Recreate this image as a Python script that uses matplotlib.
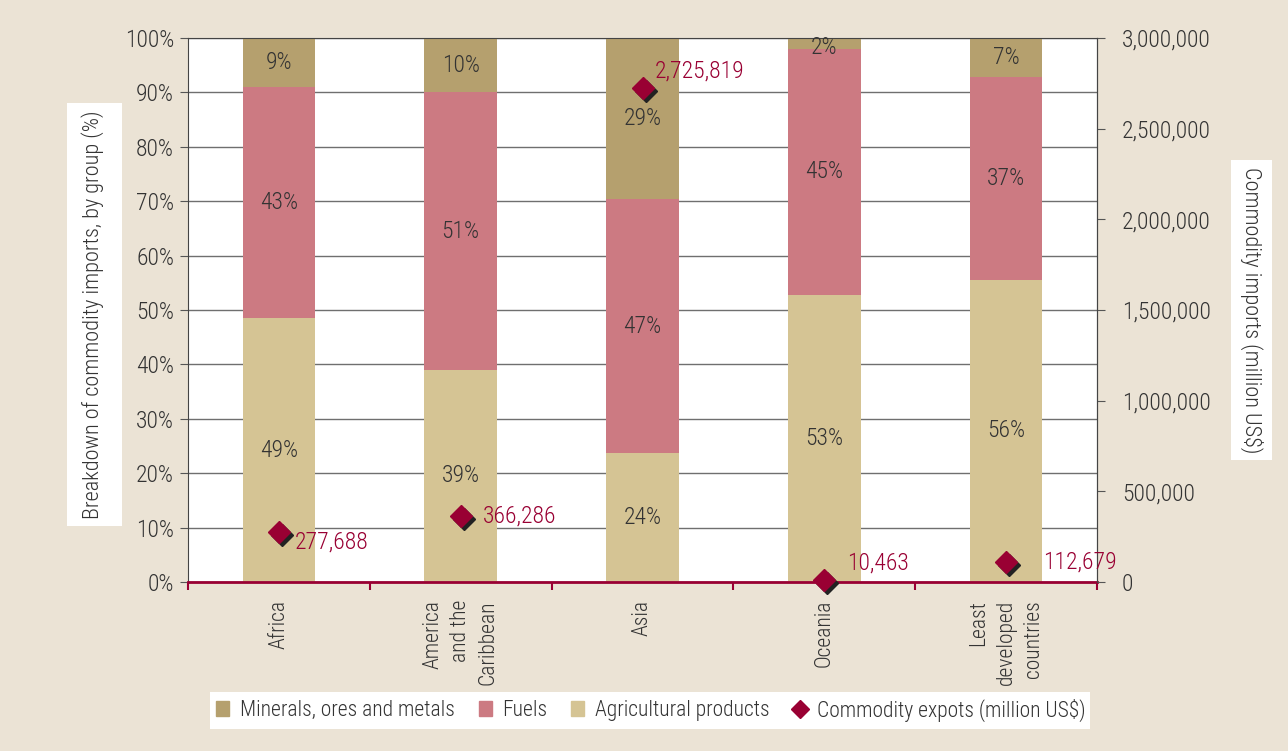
import matplotlib.pyplot as plt
import numpy as np
from matplotlib.patches import Rectangle, Patch
from matplotlib.lines import Line2D
from matplotlib.ticker import FuncFormatter, MultipleLocator
import matplotlib.transforms as mtransforms

plt.rcParams['font.family'] = ['Roboto Condensed', 'Archivo Narrow', 'PT Sans Narrow',
                               'Liberation Sans Narrow', 'DejaVu Sans']
plt.rcParams['font.weight'] = 'light'

groups = ["Africa", "America\nand the\nCaribbean", "Asia", "Oceania",
          "Least\ndeveloped\ncountries"]
agricultural = [48.5, 39.0, 23.7, 52.8, 55.6]
fuels = [42.5, 51.0, 46.7, 45.2, 37.2]
minerals = [9.0, 10.0, 29.6, 2.0, 7.2]
agri_labels = [49, 39, 24, 53, 56]
fuel_labels = [43, 51, 47, 45, 37]
mineral_labels = [9, 10, 29, 2, 7]
exports = [277688, 366286, 2725819, 10463, 112679]

BG = "#ebe3d5"
C_MIN = "#b5a06e"
C_FUEL = "#cc7a82"
C_AGRI = "#d5c494"
C_EXP = "#990033"
TXT = "#333333"
FS_NUM = 17   # numbers
FS_TXT = 16   # axis titles
FS_LAB = 15.5 # category labels / legend


def main():
    fig = plt.figure(figsize=(12.88, 7.51), dpi=100, facecolor=BG)
    W, H = 1288, 751
    ax = fig.add_axes([188 / W, 1 - 582 / H, (1097 - 188) / W, (582 - 38) / H])
    ax.set_facecolor("white")
    x = np.arange(len(groups))
    bw = 0.4

    ax.bar(x, agricultural, bw, color=C_AGRI, zorder=2)
    bottom2 = np.array(agricultural)
    ax.bar(x, fuels, bw, bottom=bottom2, color=C_FUEL, zorder=2)
    bottom3 = bottom2 + np.array(fuels)
    ax.bar(x, minerals, bw, bottom=bottom3, color=C_MIN, zorder=2)

    for i in range(len(groups)):
        ax.text(x[i], agricultural[i] / 2, f"{agri_labels[i]}%", ha="center",
                va="center", fontsize=FS_NUM, color=TXT, zorder=3)
        ax.text(x[i], bottom2[i] + fuels[i] / 2, f"{fuel_labels[i]}%", ha="center",
                va="center", fontsize=FS_NUM, color=TXT, zorder=3)
        ym = bottom3[i] + minerals[i] / 2
        ax.text(x[i], min(ym, 98.3), f"{mineral_labels[i]}%", ha="center",
                va="center", fontsize=FS_NUM, color=TXT, zorder=3)

    ax.set_xlim(-0.5, len(groups) - 0.5)
    ax.set_ylim(0, 100)
    ax.yaxis.set_major_locator(MultipleLocator(10))
    ax.yaxis.set_major_formatter(FuncFormatter(lambda v, p: f"{v:.0f}%"))
    ax.grid(axis="y", color="#6f6f6f", lw=1.0, zorder=0)
    ax.set_axisbelow(True)
    ax.tick_params(axis="y", direction="out", length=6, color="#555555",
                   labelsize=FS_NUM, labelcolor=TXT, pad=4)

    ax.set_xticks(np.arange(len(groups) + 1) - 0.5)
    ax.set_xticklabels([])
    ax.tick_params(axis="x", which="major", direction="out", length=6,
                   color=C_EXP, width=1.5)
    ax.set_xticks(x, minor=True)
    ax.set_xticklabels(groups, minor=True, rotation=90, fontsize=FS_LAB, color=TXT,
                       va="top", ha="center", multialignment="right",
                       linespacing=1.4)
    ax.tick_params(axis="x", which="minor", length=0, pad=13)

    for s in ["left", "right", "top"]:
        ax.spines[s].set_color("#444444")
    ax.spines["bottom"].set_color(C_EXP)
    ax.spines["bottom"].set_linewidth(2)
    ax.spines["bottom"].set_zorder(5)

    ax2 = ax.twinx()
    ax2.set_ylim(0, 3000000)
    ax2.yaxis.set_major_locator(MultipleLocator(500000))
    ax2.yaxis.set_major_formatter(FuncFormatter(lambda v, p: f"{v:,.0f}"))
    ax2.tick_params(axis="y", direction="out", length=6, color="#555555",
                    labelsize=FS_NUM, labelcolor=TXT, pad=12)
    for s in ax2.spines.values():
        s.set_visible(False)
    ax2.spines["right"].set_visible(True)
    ax2.spines["right"].set_color("#444444")

    shadow = ax2.transData + mtransforms.ScaledTranslation(
        3 / 100, -3 / 100, fig.dpi_scale_trans)
    ax2.plot(x, exports, ls="none", marker="D", ms=11, color="#222222",
             transform=shadow, clip_on=False, zorder=4)
    ax2.plot(x, exports, ls="none", marker="D", ms=11, color=C_EXP,
             clip_on=False, zorder=5)
    offsets = [(16, -10), (22, 0), (12, 17), (23, 17), (37, 0)]
    for i, v in enumerate(exports):
        ax2.annotate(f"{v:,}", (x[i], v), xytext=offsets[i],
                     textcoords="offset pixels", ha="left", va="center",
                     fontsize=FS_NUM, color=C_EXP, annotation_clip=False, zorder=6)

    # white boxes behind axis titles and legend
    def fig_box(x0, y0, x1, y1):
        fig.patches.append(Rectangle((x0 / W, 1 - y1 / H), (x1 - x0) / W,
                                     (y1 - y0) / H, transform=fig.transFigure,
                                     facecolor="white", edgecolor="none",
                                     zorder=0))

    fig_box(67, 103, 122, 526)
    fig.text(93 / W, 1 - 314.5 / H, "Breakdown of commodity imports, by group (%)",
             rotation=90, ha="center", va="center", fontsize=FS_TXT, color=TXT)
    fig_box(1231, 160, 1272, 460)
    fig.text(1252 / W, 1 - 310 / H, "Commodity imports (million US$)",
             rotation=270, ha="center", va="center", fontsize=FS_TXT, color=TXT)

    fig_box(210, 692, 1090, 729)
    handles = [Patch(color=C_MIN), Patch(color=C_FUEL), Patch(color=C_AGRI),
               Line2D([], [], ls="none", marker="D", ms=9, color=C_EXP)]
    labels = ["Minerals, ores and metals", "Fuels", "Agricultural products",
              "Commodity expots (million US$)"]
    fig.legend(handles, labels, loc="center", bbox_to_anchor=(651 / W, 1 - 710 / H),
               ncol=4, frameon=False, fontsize=FS_LAB, handlelength=0.6,
               handleheight=0.7, handletextpad=0.5, columnspacing=1.1,
               labelcolor=TXT)

    plt.savefig("out.png", dpi=100, facecolor=BG)


if __name__ == "__main__":
    main()
